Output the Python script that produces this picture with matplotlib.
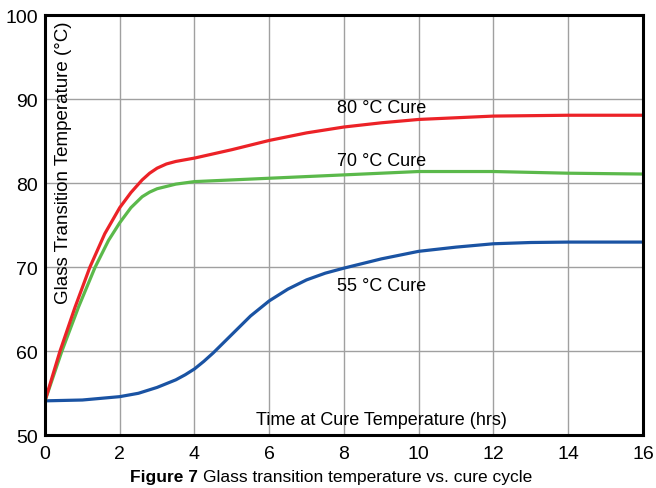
import numpy as np
import matplotlib
matplotlib.use('Agg')
import matplotlib.pyplot as plt

plt.rcParams['font.family'] = ['Liberation Sans', 'DejaVu Sans']

# 80 °C cure curve
t_80 = [0, 0.4, 0.8, 1.2, 1.6, 2.0, 2.3, 2.6, 2.8, 3.0, 3.25, 3.5, 4, 5, 6, 7, 8, 9, 10, 11,
        12, 14, 16]
tg_80 = [54.1, 60.0, 65.2, 70.0, 74.0, 77.1, 78.9, 80.4, 81.2, 81.8, 82.3, 82.6, 83.0, 84.0,
         85.1, 86.0, 86.7, 87.2, 87.6, 87.8, 88.0, 88.1, 88.1]

# 70 °C cure curve
t_70 = [0, 0.45, 0.9, 1.34, 1.7, 2.0, 2.3, 2.6, 2.8, 3.0, 3.5, 4, 5, 6, 8, 10, 12, 13, 14, 16]
tg_70 = [54.1, 60.0, 65.3, 70.0, 73.2, 75.3, 77.1, 78.4, 78.95, 79.35, 79.9, 80.2, 80.4,
         80.6, 81.0, 81.4, 81.4, 81.3, 81.2, 81.1]

# 55 °C cure curve
t_55 = [0, 1, 2, 2.5, 3, 3.5, 3.75, 4, 4.25, 4.5, 4.75, 5, 5.5, 6, 6.5, 7, 7.5, 8, 9, 10, 11,
        12, 13, 14, 16]
tg_55 = [54.1, 54.2, 54.6, 55.0, 55.7, 56.6, 57.2, 57.9, 58.8, 59.8, 60.9, 62.0, 64.2, 66.0,
         67.4, 68.5, 69.3, 69.9, 71.0, 71.9, 72.4, 72.8, 72.95, 73.0, 73.0]

x_ticks = [0, 2, 4, 6, 8, 10, 12, 14, 16]
y_ticks = [50, 60, 70, 80, 90, 100]

fig = plt.figure(figsize=(6.56, 4.89), dpi=100)
ax = fig.add_axes([0.0686, 0.1078, 0.9114, 0.8589])

ax.grid(True, color='#a0a0a0', linewidth=1.0)
ax.set_axisbelow(True)

lw = 2.3
ax.plot(t_55, tg_55, color='#1a53a3', linewidth=lw, solid_joinstyle='round', solid_capstyle='round')
ax.plot(t_70, tg_70, color='#5bb94b', linewidth=lw, solid_joinstyle='round', solid_capstyle='round')
ax.plot(t_80, tg_80, color='#ec2227', linewidth=lw, solid_joinstyle='round', solid_capstyle='round')

ax.set_xlim(0, 16)
ax.set_ylim(50, 100)
ax.set_xticks(x_ticks)
ax.set_yticks(y_ticks)
ax.tick_params(length=0, labelsize=14)
ax.tick_params(axis='x', pad=7)
ax.tick_params(axis='y', pad=5)
for s in ax.spines.values():
    s.set_linewidth(2.2)
    s.set_color('black')

# labels on the curves
ax.text(9.0, 89.0, '80 °C Cure', ha='center', va='center', fontsize=13)
ax.text(9.0, 82.7, '70 °C Cure', ha='center', va='center', fontsize=13)
ax.text(9.0, 67.8, '55 °C Cure', ha='center', va='center', fontsize=13)

# axis titles sit inside the plot
ax.text(9.0, 51.9, 'Time at Cure Temperature (hrs)', ha='center', va='center', fontsize=13)
ax.text(0.5, 99.4, 'Glass Transition Temperature (°C)', ha='center', va='top',
        rotation=90, fontsize=13.5)

# caption: bold "Figure 7" then regular text, centred as a whole
t_bold = fig.text(0, 0.024, 'Figure 7 ', ha='left', va='center', fontsize=12.5,
                  fontweight='bold')
t_reg = fig.text(0, 0.024, 'Glass transition temperature vs. cure cycle', ha='left',
                 va='center', fontsize=12.5)
fig.canvas.draw()
r = fig.canvas.get_renderer()
wb = t_bold.get_window_extent(r).width
wr = t_reg.get_window_extent(r).width
W = fig.bbox.width
x0 = (0.505 * W - (wb + wr) / 2)
t_bold.set_x(x0 / W)
t_reg.set_x((x0 + wb) / W)

plt.savefig('out.png', dpi=100)
